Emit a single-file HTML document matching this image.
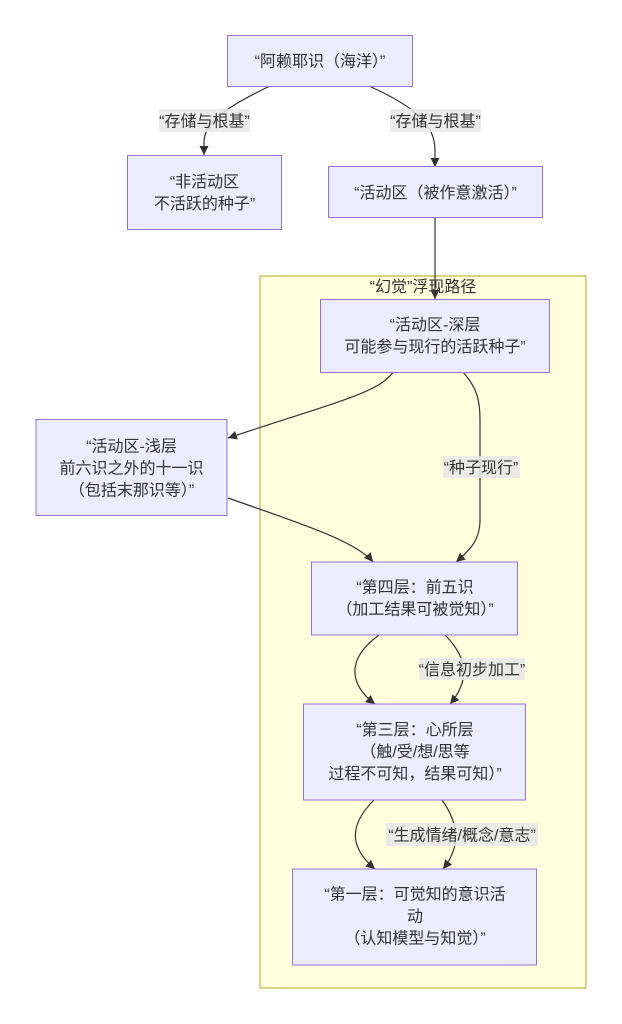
<!DOCTYPE html>
<html><head><meta charset="utf-8"><style>
html,body{margin:0;padding:0;background:#fff;}
svg{display:block;}
text{font-family:"Liberation Sans","Noto Sans CJK SC",sans-serif;font-size:16px;fill:#333;}
</style></head><body>
<svg width="622" height="1024" viewBox="0 0 622 1024" xmlns="http://www.w3.org/2000/svg">
<defs>
<marker id="ah" viewBox="0 0 10 10" refX="10" refY="5" markerWidth="9" markerHeight="9" markerUnits="userSpaceOnUse" orient="auto">
<path d="M0,0 L10,5 L0,10 z" fill="#333"/>
</marker>
</defs>
<!-- cluster -->
<rect x="260" y="276" width="326" height="712" fill="#ffffde" stroke="#aaaa33" stroke-width="1"/>
<text x="423" y="292" text-anchor="middle">“幻觉”浮现路径</text>

<!-- edges -->
<g fill="none" stroke="#333" stroke-width="1.2" marker-end="url(#ah)">
<path d="M270,86 C228,106 204,122 204,142 L204,155"/>
<path d="M369,86 C418,108 435,126 435,150 L435,167"/>
<path d="M435,218 L435,299"/>
<path d="M393,372 C380,392 340,401 228,438"/>
<path d="M463,372 C477,388 480,400 480,420 L480,520 C480,540 470,550 456,562"/>
<path d="M228,498 C290,520 355,540 373,562"/>
<path d="M379,635 C345,660 350,685 375,704"/>
<path d="M445,635 C470,660 468,683 450,704"/>
<path d="M374,800 C348,826 350,848 375,869"/>
<path d="M442,800 C460,825 460,848 443,869"/>
</g>

<!-- edge labels -->
<g fill="#e8e8e8" fill-opacity="0.85">
<rect x="159" y="109" width="91" height="23"/>
<rect x="390" y="109" width="91" height="23"/>
<rect x="443" y="456" width="77" height="22"/>
<rect x="419" y="658" width="106" height="22"/>
<rect x="386" y="823" width="152" height="23"/>
</g>
<text x="204.5" y="126.5" text-anchor="middle">“存储与根基”</text>
<text x="435.5" y="126.5" text-anchor="middle">“存储与根基”</text>
<text x="481" y="473" text-anchor="middle">“种子现行”</text>
<text x="472" y="675" text-anchor="middle">“信息初步加工”</text>
<text x="462" y="840.5" text-anchor="middle">“生成情绪/概念/意志”</text>

<!-- nodes -->
<g fill="#ECECFF" stroke="#9370DB" stroke-width="1">
<rect x="227.5" y="35.5" width="185" height="51"/>
<rect x="127.5" y="155.5" width="154" height="74"/>
<rect x="328.5" y="166.5" width="214" height="51"/>
<rect x="320.5" y="299.5" width="229" height="73"/>
<rect x="36" y="419.5" width="191" height="96"/>
<rect x="311.5" y="562" width="206" height="73"/>
<rect x="303.5" y="704" width="222" height="96"/>
<rect x="292.5" y="869" width="244" height="96"/>
</g>

<text x="320" y="66.5" text-anchor="middle">“阿赖耶识（海洋）”</text>
<text x="204.5" y="187" text-anchor="middle">“非活动区</text>
<text x="204.5" y="209" text-anchor="middle">不活跃的种子”</text>
<text x="435.5" y="198" text-anchor="middle">“活动区（被作意激活）”</text>

<text x="435" y="330" text-anchor="middle">“活动区-深层</text>
<text x="435" y="352" text-anchor="middle">可能参与现行的活跃种子”</text>

<text x="131.5" y="451.5" text-anchor="middle">“活动区-浅层</text>
<text x="131.5" y="473.5" text-anchor="middle">前六识之外的十一识</text>
<text x="131.5" y="495.5" text-anchor="middle">（包括末那识等）”</text>

<text x="415" y="592.5" text-anchor="middle">“第四层：前五识</text>
<text x="415" y="614.5" text-anchor="middle">（加工结果可被觉知）”</text>

<text x="415" y="735" text-anchor="middle">“第三层：心所层</text>
<text x="415" y="757" text-anchor="middle">（触/受/想/思等</text>
<text x="415" y="779" text-anchor="middle">过程不可知，结果可知）”</text>

<text x="415" y="899.5" text-anchor="middle">“第一层：可觉知的意识活</text>
<text x="415" y="921.5" text-anchor="middle">动</text>
<text x="415" y="943.5" text-anchor="middle">（认知模型与知觉）”</text>
</svg>
</body></html>
